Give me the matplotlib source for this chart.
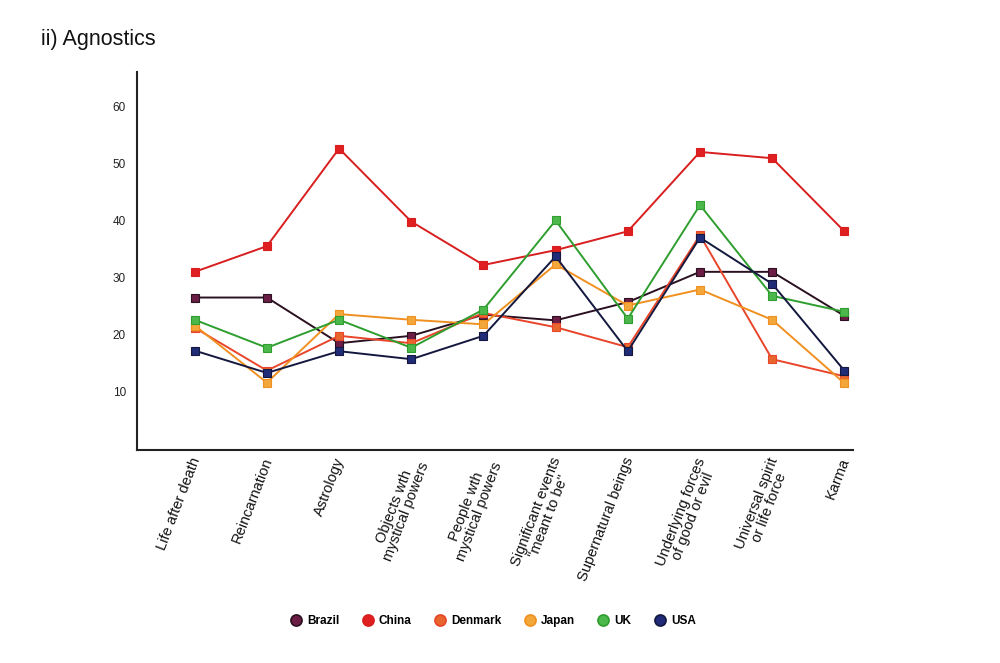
import numpy as np
import matplotlib.pyplot as plt
import matplotlib.transforms as mtransforms

plt.rcParams['font.family'] = ['Liberation Sans', 'DejaVu Sans']

categories = ['Life after death', 'Reincarnation', 'Astrology',
              'Objects wth\nmystical powers', 'People wth\nmystical powers',
              'Significant events\n"meant to be"', 'Supernatural beings',
              'Underlying forces\nof good or evil', 'Universal spirit\nor life force',
              'Karma']

brazil = [26.5, 26.5, 18.5, 19.8, 23.5, 22.5, 25.7, 31.0, 31.0, 23.3]
china = [31.0, 35.5, 52.6, 39.8, 32.2, 34.8, 38.1, 52.0, 50.9, 38.1]
denmark = [21.2, 13.7, 19.8, 18.5, 23.8, 21.3, 17.8, 37.4, 15.7, 12.7]
japan = [21.6, 11.6, 23.6, 22.6, 21.8, 32.3, 25.1, 27.9, 22.6, 11.5]
uk = [22.6, 17.7, 22.6, 17.7, 24.4, 40.0, 22.8, 42.7, 26.8, 24.0]
usa = [17.2, 13.3, 17.1, 15.7, 19.8, 33.7, 17.1, 37.0, 28.9, 13.7]

yticks = [10, 20, 30, 40, 50, 60]

# (name, values, line colour, marker face colour)
series = [
    ('Brazil', brazil, '#2a1020', '#6b1d45'),
    ('China', china, '#d81e1e', '#e02020'),
    ('Denmark', denmark, '#e8452a', '#e8662e'),
    ('Japan', japan, '#f09020', '#f3a73a'),
    ('UK', uk, '#2e9e2e', '#4cb84c'),
    ('USA', usa, '#14183e', '#202c78'),
]

fig = plt.figure(figsize=(10, 6.63), dpi=100)
ax = fig.add_axes([0.137, 0.3213, 0.716, 0.5701])

x = np.arange(len(categories))
for name, vals, lc, mc in series:
    ax.plot(x, vals, color=lc, linewidth=1.4, marker='s', markersize=5.5,
            markerfacecolor=mc, markeredgecolor=lc, markeredgewidth=0.8, zorder=3)

ax.set_xlim(-0.8, 9.12)
ax.set_ylim(-0.2, 66)
ax.set_yticks(yticks)
ax.set_yticklabels([str(t) for t in yticks], fontsize=8.5, color='#222222')
ax.set_xticks(x)
ax.set_xticklabels(categories, rotation=69, ha='right', rotation_mode='anchor',
                   fontsize=10.5, color='#111111', linespacing=0.95)
ax.tick_params(axis='both', length=0)
ax.tick_params(axis='y', pad=8)
ax.tick_params(axis='x', pad=4)
# nudge the category labels a little to the left
offset = mtransforms.ScaledTranslation(-5 / 100, 0, fig.dpi_scale_trans)
for lab in ax.get_xticklabels():
    lab.set_multialignment('center')
    lab.set_transform(lab.get_transform() + offset)
for s in ['top', 'right']:
    ax.spines[s].set_visible(False)
for s in ['left', 'bottom']:
    ax.spines[s].set_linewidth(1.5)
    ax.spines[s].set_color('#222222')

fig.text(0.041, 0.94, 'ii) Agnostics', fontsize=15.5, fontweight='normal',
         color='#111111', va='center')

# legend with circle markers
handles = [plt.Line2D([], [], linestyle='none', marker='o', markersize=8,
                      markerfacecolor=mc, markeredgecolor=lc, markeredgewidth=1.2)
           for name, vals, lc, mc in series]
labels = [s[0] for s in series]
leg = fig.legend(handles, labels, loc='center', bbox_to_anchor=(0.493, 0.0633),
                 ncol=6, frameon=False, handletextpad=0.45, columnspacing=1.9,
                 handlelength=1.0, prop={'weight': 'bold', 'size': 8.5})

fig.savefig('out.png', dpi=100, facecolor='white')
